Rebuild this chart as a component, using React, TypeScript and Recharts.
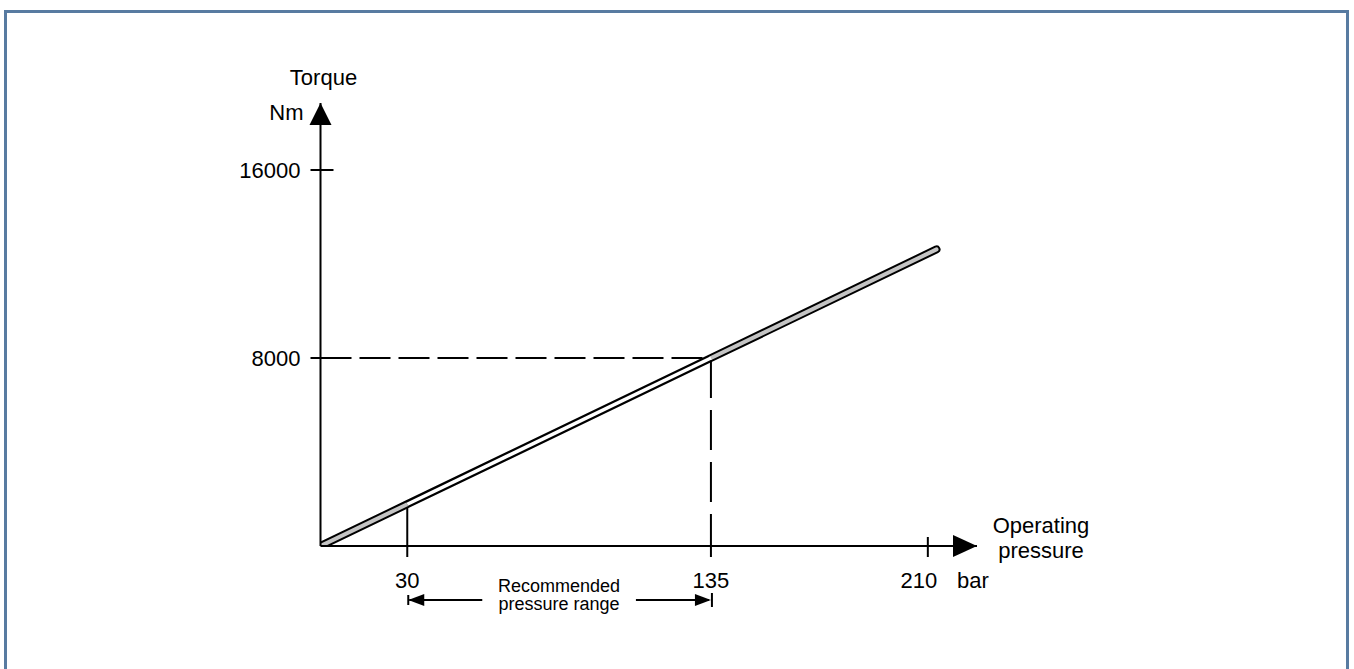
import { LineChart, Line, XAxis, YAxis, ReferenceLine, ReferenceDot, ReferenceArea } from "recharts";

// pressure (bar) vs torque (Nm)
const pressure = [0, 30, 135, 213];
const torque = [0, 1778, 8000, 12620];
const xTicks = [30, 135, 210];
const yTicks = [8000, 16000];
const rangeLow = 30;
const rangeHigh = 135;
const ratedTorque = 8000;
const xMax = 227;
const yMax = 18850;

const points = pressure.map((p, i) => ({ p, t: torque[i] }));
const lowPart = points.slice(0, 2);
const midPart = points.slice(1, 3);
const highPart = points.slice(2, 4);

const FONT = "'Liberation Sans', Arial, sans-serif";

const XTick = (props: any) => {
    const { x, y, payload } = props;
    const v = payload.value;
    const last = v === xTicks[xTicks.length - 1];
    return (
        <g>
            <line x1={x} x2={x} y1={last ? y - 9 : y} y2={y + 11} stroke="#000" strokeWidth={2} />
            <text x={last ? x - 9 : x} y={y + 42} textAnchor="middle" fontSize={22} fill="#000">{v}</text>
        </g>
    );
};

const YTick = (props: any) => {
    const { x, y, payload } = props;
    const v = payload.value;
    const top = v === yTicks[yTicks.length - 1];
    return (
        <g>
            <line x1={x - 10} x2={top ? x + 13 : x} y1={y} y2={y} stroke="#000" strokeWidth={2} />
            <text x={x - 20} y={y + 8} textAnchor="end" fontSize={22} fill="#000">{v}</text>
        </g>
    );
};

const XLabel = (props: any) => {
    const { x, y, width } = props.viewBox;
    const r = x + width;
    return (
        <g fontSize={22} fill="#000">
            <text x={r - 20} y={y + 42}>bar</text>
            <text x={r + 64} y={y - 13} textAnchor="middle">Operating</text>
            <text x={r + 64} y={y + 12} textAnchor="middle">pressure</text>
        </g>
    );
};

const YLabel = (props: any) => {
    const { x, y, width } = props.viewBox;
    const r = x + width;
    return (
        <g fontSize={22} fill="#000">
            <text x={r + 3} y={y - 18} textAnchor="middle">Torque</text>
            <text x={r - 17} y={y + 17} textAnchor="end">Nm</text>
        </g>
    );
};

const RangeNote = (props: any) => {
    const { x, y, width, height } = props.viewBox;
    const b = y + height;
    const ay = b + 54;
    const r = x + width;
    return (
        <g>
            <line x1={x + 2} x2={x + 75} y1={ay} y2={ay} stroke="#000" strokeWidth={2} />
            <path d={`M${x + 1},${ay} L${x + 17},${ay - 6} L${x + 17},${ay + 6} Z`} fill="#000" />
            <line x1={x + 1} x2={x + 1} y1={ay - 5} y2={ay + 5} stroke="#000" strokeWidth={2} />
            <line x1={r - 75} x2={r - 2} y1={ay} y2={ay} stroke="#000" strokeWidth={2} />
            <path d={`M${r},${ay} L${r - 16},${ay - 6} L${r - 16},${ay + 6} Z`} fill="#000" />
            <line x1={r + 1} x2={r + 1} y1={ay - 7} y2={ay + 7} stroke="#000" strokeWidth={2} />
            <text x={x + width / 2} y={b + 46} textAnchor="middle" fontSize={18} fill="#000">Recommended</text>
            <text x={x + width / 2} y={b + 64} textAnchor="middle" fontSize={18} fill="#000">pressure range</text>
        </g>
    );
};

const UpArrow = (props: any) => {
    const { cx, cy } = props;
    return <path d={`M${cx},${cy} L${cx + 11},${cy + 22} L${cx - 11},${cy + 22} Z`} fill="#000" />;
};

const RightArrow = (props: any) => {
    const { cx, cy } = props;
    return <path d={`M${cx},${cy} L${cx - 24},${cy - 11} L${cx - 24},${cy + 11} Z`} fill="#000" />;
};

export default function App() {
    return (
        <div style={{ position: "absolute", left: 0, top: 0, width: 1354, height: 669, overflow: "hidden", background: "#fff", fontFamily: FONT }}>
            <div style={{ position: "absolute", left: 4, top: 10, width: 1345, height: 700, boxSizing: "border-box", border: "3px solid #587ba1" }} />
            <div style={{ position: "absolute", left: 0, top: 0 }}>
                <LineChart width={1354} height={669} data={points} margin={{ top: 103, right: 377, left: 260.5, bottom: 83 }}>
                    <XAxis
                        type="number"
                        dataKey="p"
                        domain={[0, xMax]}
                        allowDataOverflow
                        ticks={xTicks}
                        tick={<XTick />}
                        tickLine={false}
                        tickSize={0}
                        tickMargin={0}
                        height={40}
                        axisLine={{ stroke: "#000", strokeWidth: 2 }}
                        label={{ content: XLabel }}
                    />
                    <YAxis
                        type="number"
                        dataKey="t"
                        domain={[0, yMax]}
                        allowDataOverflow
                        ticks={yTicks}
                        tick={<YTick />}
                        tickLine={false}
                        tickSize={0}
                        tickMargin={0}
                        width={60}
                        axisLine={{ stroke: "#000", strokeWidth: 2 }}
                        label={{ content: YLabel }}
                    />
                    <ReferenceArea x1={rangeLow} x2={rangeHigh} fillOpacity={0} strokeOpacity={0} ifOverflow="visible" label={{ content: RangeNote }} />
                    <ReferenceLine segment={[{ x: 0, y: ratedTorque }, { x: rangeHigh, y: ratedTorque }]} stroke="#000" strokeWidth={2} strokeDasharray="31 8" />
                    <ReferenceLine segment={[{ x: rangeHigh, y: ratedTorque }, { x: rangeHigh, y: 0 }]} stroke="#000" strokeWidth={2} strokeDasharray="40 12" />
                    <ReferenceLine segment={[{ x: rangeLow, y: 0 }, { x: rangeLow, y: torque[1] }]} stroke="#000" strokeWidth={2} />
                    <Line data={points} dataKey="t" stroke="#000" strokeWidth={8} strokeLinecap="round" strokeLinejoin="round" dot={false} activeDot={false} isAnimationActive={false} />
                    <Line data={lowPart} dataKey="t" stroke="#c4c4c4" strokeWidth={4} dot={false} activeDot={false} isAnimationActive={false} />
                    <Line data={highPart} dataKey="t" stroke="#c4c4c4" strokeWidth={4} strokeLinecap="round" dot={false} activeDot={false} isAnimationActive={false} />
                    <Line data={midPart} dataKey="t" stroke="#fff" strokeWidth={3.5} dot={false} activeDot={false} isAnimationActive={false} />
                    <ReferenceDot x={0} y={yMax} r={0} ifOverflow="visible" shape={UpArrow} />
                    <ReferenceDot x={xMax} y={0} r={0} ifOverflow="visible" shape={RightArrow} />
                </LineChart>
            </div>
        </div>
    );
}
